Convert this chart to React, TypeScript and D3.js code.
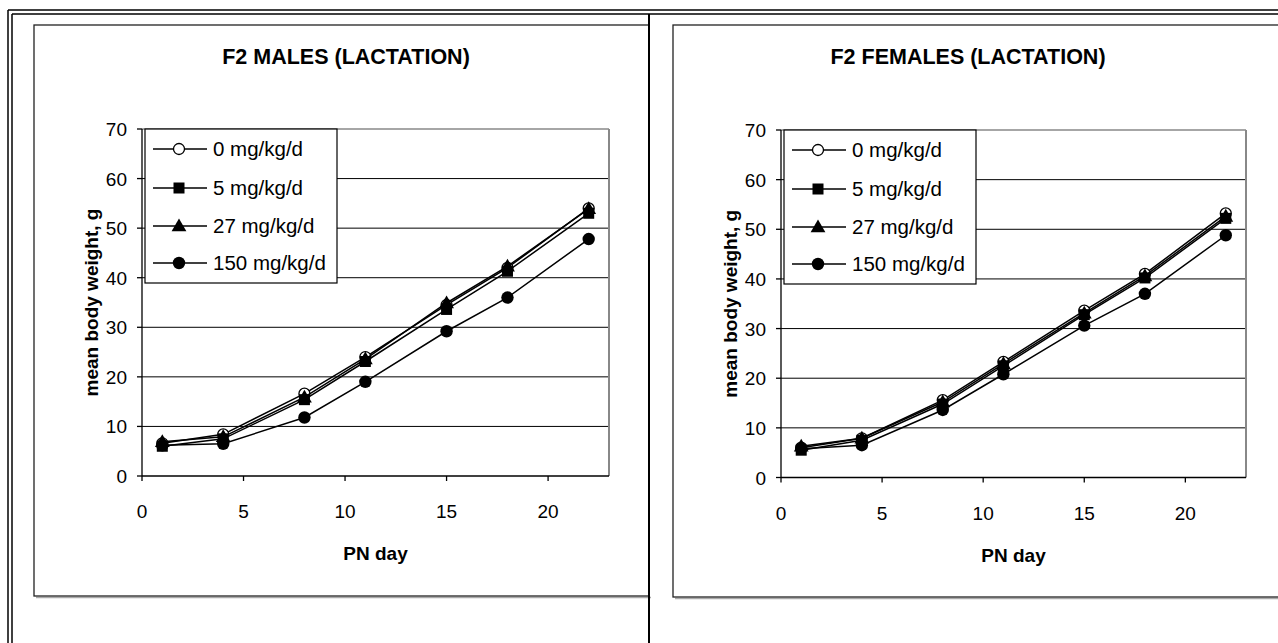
import React from 'react';
import * as d3 from 'd3';

// PN days sampled during lactation
const days = [1, 4, 8, 11, 15, 18, 22];
const doseLabels = ['0 mg/kg/d', '5 mg/kg/d', '27 mg/kg/d', '150 mg/kg/d'];
const markerKinds = ['open', 'square', 'triangle', 'dot'];

// F2 males, mean body weight (g)
const males0 = [6.6, 8.4, 16.6, 24.0, 34.5, 42.0, 54.0];
const males5 = [6.0, 7.5, 15.4, 23.1, 33.6, 41.3, 53.0];
const males27 = [6.9, 7.9, 15.9, 23.6, 34.9, 42.3, 53.9];
const males150 = [6.2, 6.5, 11.8, 19.0, 29.2, 36.0, 47.8];

// F2 females, mean body weight (g)
const females0 = [6.0, 7.9, 15.6, 23.3, 33.6, 41.0, 53.2];
const females5 = [5.5, 7.5, 14.8, 22.5, 32.8, 40.2, 52.2];
const females27 = [6.3, 7.9, 15.2, 22.9, 33.1, 40.6, 52.6];
const females150 = [5.8, 6.5, 13.6, 20.8, 30.6, 37.0, 48.8];

const xTicks = [0, 5, 10, 15, 20];
const yTicks = [0, 10, 20, 30, 40, 50, 60, 70];

const FONT = '"Liberation Sans", Arial, sans-serif';

const leftPanel = {
  box: { x: 34, y: 25, w: 615, h: 571 },
  plot: { left: 142, right: 609, top: 129, bottom: 476 },
  titleX: 346,
};
const rightPanel = {
  box: { x: 673, y: 25, w: 640, h: 572 },
  plot: { left: 781, right: 1246, top: 130, bottom: 477.5 },
  titleX: 968,
};

function Marker({ kind, cx, cy }: { kind: string; cx: number; cy: number }) {
  if (kind === 'open') {
    return <circle cx={cx} cy={cy} r={5.5} fill="#fff" stroke="#000" strokeWidth={1.3} />;
  }
  if (kind === 'square') {
    return <rect x={cx - 5.5} y={cy - 5.5} width={11} height={11} fill="#000" />;
  }
  if (kind === 'triangle') {
    const tri = d3.symbol().type(d3.symbolTriangle).size(95)();
    return <path d={tri || ''} transform={`translate(${cx},${cy + 1})`} fill="#000" />;
  }
  return <circle cx={cx} cy={cy} r={6.2} fill="#000" />;
}

function Panel({ cfg, title, series }: { cfg: any; title: string; series: number[][] }) {
  const { box, plot, titleX } = cfg;
  const x = d3.scaleLinear().domain([0, 23]).range([plot.left, plot.right]);
  const y = d3.scaleLinear().domain([0, 70]).range([plot.bottom, plot.top]);
  const line = d3
    .line<number>()
    .x((_, i) => x(days[i]))
    .y((d) => y(d));

  const midY = (plot.top + plot.bottom) / 2;
  const midX = (plot.left + plot.right) / 2;
  const lg = { x: plot.left + 3, y: plot.top, w: 192, h: 154 };
  const rowY = [20, 59, 97, 134];

  return (
    <g>
      {/* chart area with shadow */}
      <line x1={box.x + 2} x2={box.x + box.w + 2} y1={box.y + box.h + 1.5} y2={box.y + box.h + 1.5} stroke="#aaa" strokeWidth={1.5} />
      <rect x={box.x} y={box.y} width={box.w} height={box.h} fill="#fff" stroke="#222" strokeWidth={1.3} />

      <text x={titleX} y={64} textAnchor="middle" fontFamily={FONT} fontWeight="bold" fontSize={21.5}>
        {title}
      </text>

      {/* gridlines */}
      {yTicks.filter((t) => t > 0 && t < 70).map((t) => (
        <line key={t} x1={plot.left} x2={plot.right} y1={y(t)} y2={y(t)} stroke="#000" strokeWidth={1} />
      ))}
      {/* plot border (top/right gray) */}
      <line x1={plot.left} x2={plot.right} y1={plot.top} y2={plot.top} stroke="#888" strokeWidth={1.5} />
      <line x1={plot.right} x2={plot.right} y1={plot.top} y2={plot.bottom} stroke="#888" strokeWidth={2} />

      {/* axes */}
      <line x1={plot.left} x2={plot.left} y1={plot.top} y2={plot.bottom} stroke="#000" strokeWidth={1.3} />
      <line x1={plot.left} x2={plot.right} y1={plot.bottom} y2={plot.bottom} stroke="#000" strokeWidth={1.3} />
      {yTicks.map((t) => (
        <g key={t}>
          <line x1={plot.left - 5} x2={plot.left} y1={y(t)} y2={y(t)} stroke="#000" strokeWidth={1.3} />
          <text x={plot.left - 15} y={y(t) + 7} textAnchor="end" fontFamily={FONT} fontSize={19}>
            {t}
          </text>
        </g>
      ))}
      {xTicks.map((t) => (
        <g key={t}>
          <line x1={x(t)} x2={x(t)} y1={plot.bottom} y2={plot.bottom + 5} stroke="#000" strokeWidth={1.3} />
          <text x={x(t)} y={plot.bottom + 42} textAnchor="middle" fontFamily={FONT} fontSize={19}>
            {t}
          </text>
        </g>
      ))}

      <text
        transform={`translate(${plot.left - 44},${midY}) rotate(-90)`}
        textAnchor="middle"
        fontFamily={FONT}
        fontWeight="bold"
        fontSize={19}
      >
        mean body weight, g
      </text>
      <text x={midX} y={plot.bottom + 84} textAnchor="middle" fontFamily={FONT} fontWeight="bold" fontSize={19}>
        PN day
      </text>

      {/* series */}
      {series.map((vals, si) => (
        <g key={si}>
          <path d={line(vals) || ''} fill="none" stroke="#000" strokeWidth={1.5} />
          {vals.map((v, i) => (
            <Marker key={i} kind={markerKinds[si]} cx={x(days[i])} cy={y(v)} />
          ))}
        </g>
      ))}

      {/* legend */}
      <rect x={lg.x} y={lg.y} width={lg.w} height={lg.h} fill="#fff" stroke="#000" strokeWidth={1.2} />
      {doseLabels.map((lab, i) => (
        <g key={lab}>
          <line x1={lg.x + 8} x2={lg.x + 62} y1={lg.y + rowY[i]} y2={lg.y + rowY[i]} stroke="#000" strokeWidth={1.5} />
          <Marker kind={markerKinds[i]} cx={lg.x + 34} cy={lg.y + rowY[i]} />
          <text x={lg.x + 68} y={lg.y + rowY[i] + 7} fontFamily={FONT} fontSize={20.5}>
            {lab}
          </text>
        </g>
      ))}
    </g>
  );
}

export default function App() {
  return (
    <svg
      width={1278}
      height={643}
      style={{ position: 'absolute', left: 0, top: 0, background: '#fff' }}
    >
      <rect x={0} y={0} width={1278} height={643} fill="#fff" />
      <Panel cfg={leftPanel} title="F2 MALES (LACTATION)" series={[males0, males5, males27, males150]} />
      <Panel cfg={rightPanel} title="F2 FEMALES (LACTATION)" series={[females0, females5, females27, females150]} />

      {/* page borders */}
      <line x1={8} x2={1278} y1={10} y2={10} stroke="#000" strokeWidth={1.5} />
      <line x1={12} x2={1278} y1={14} y2={14} stroke="#000" strokeWidth={1.5} />
      <line x1={8} x2={8} y1={10} y2={643} stroke="#000" strokeWidth={1.5} />
      <line x1={12} x2={12} y1={14} y2={643} stroke="#000" strokeWidth={1.5} />
      <line x1={649} x2={649} y1={14} y2={643} stroke="#000" strokeWidth={2} />
    </svg>
  );
}
